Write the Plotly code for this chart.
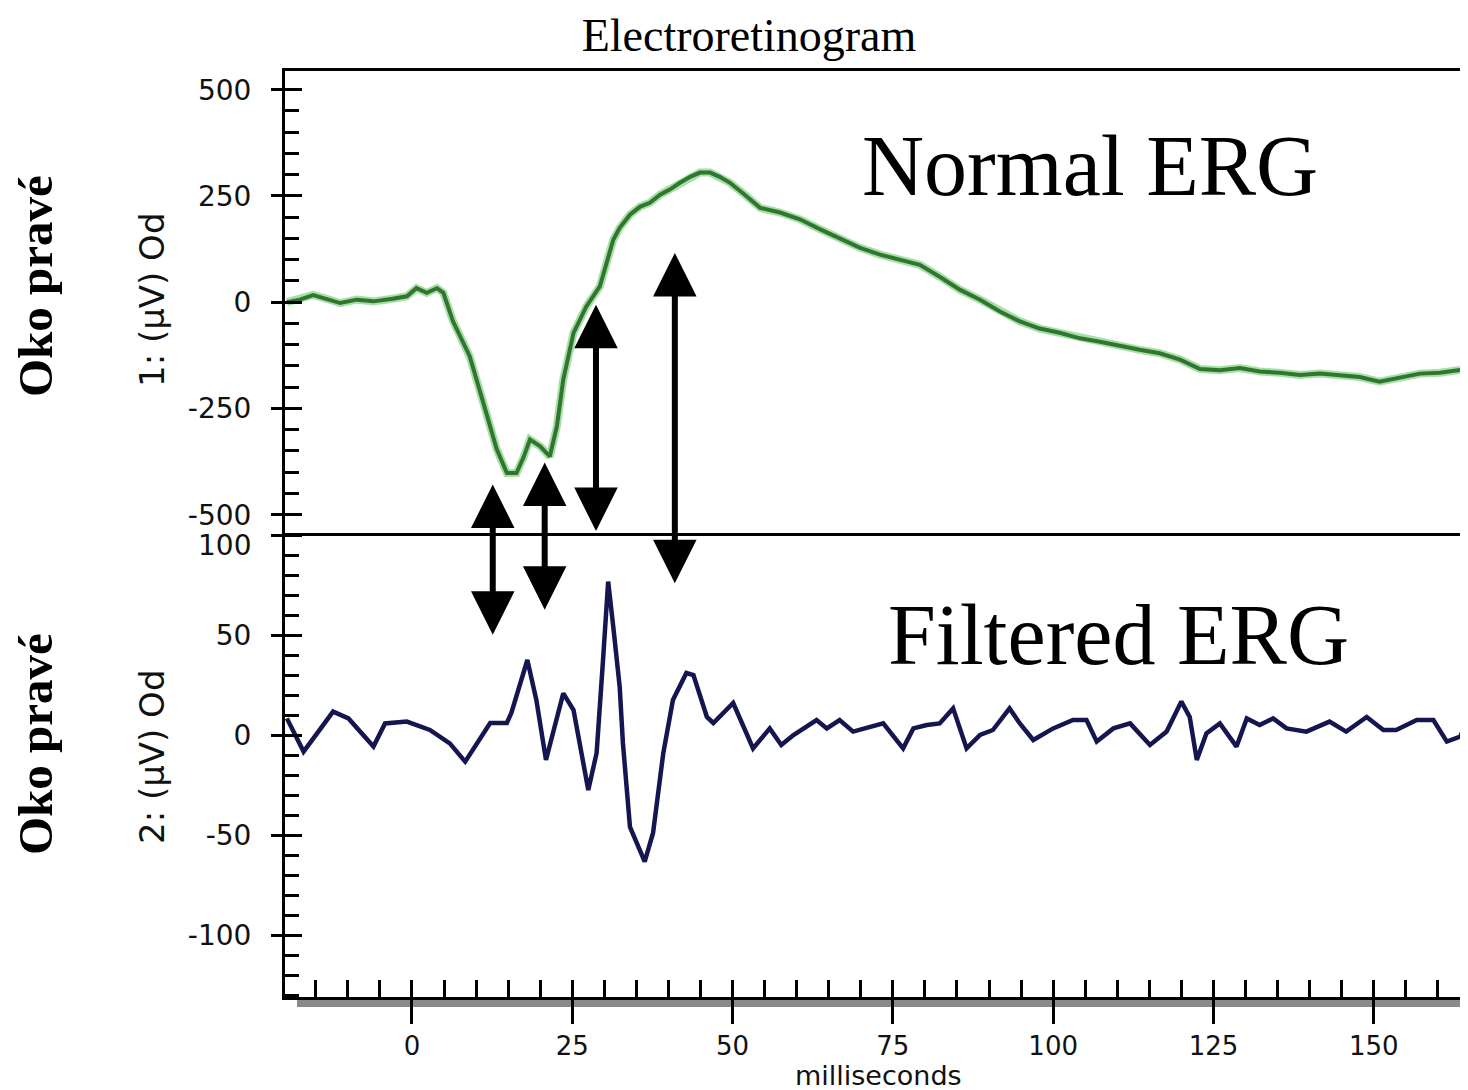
import plotly.graph_objects as go

# ---------------- data ----------------
# Normal ERG (top panel), time in ms, amplitude in microvolts
erg_ms = [-19.5, -17.5, -15.4, -13.3, -11.2, -8.6, -6.0, -3.0, -0.8, 0.7, 2.3, 3.9, 4.9,
          6.4, 9.0, 11.6, 13.2, 14.8, 16.3, 17.4, 18.4, 20.0, 21.5, 22.6, 23.6, 25.2,
          27.2, 29.3, 31.4, 32.4, 34.0, 35.6, 37.1, 38.7, 40.2, 41.8, 43.4, 44.9, 46.5,
          48.0, 49.6, 51.9, 54.3, 57.4, 60.5, 63.6, 66.7, 69.9, 73.0, 76.1, 79.2, 82.3,
          85.5, 88.6, 91.7, 94.8, 97.9, 101.0, 104.2, 107.3, 110.4, 113.5, 116.6, 119.8,
          122.9, 126.0, 129.1, 132.2, 135.3, 138.5, 141.6, 144.7, 147.8, 150.9, 154.1,
          157.2, 160.3, 164.7]
erg_uv = [0, 6, 17, 8, -2, 6, 2, 8, 14, 33, 22, 33, 22,
          -45, -127, -261, -345, -402, -402, -365, -323, -339, -363, -292, -182, -72,
          -10, 37, 147, 175, 206, 225, 234, 253, 265, 281, 295, 305, 305,
          295, 281, 253, 222, 211, 195, 172, 150, 128, 112, 100, 88, 60,
          29, 6, -22, -45, -62, -72, -85, -93, -103, -112, -120, -135,
          -157, -160, -155, -163, -166, -171, -168, -171, -176, -187, -178,
          -168, -166, -157]

# Filtered ERG (bottom panel)
filt_ms = [-19.5, -16.9, -12.3, -9.9, -6.0, -4.2, -0.8, 2.8, 5.9, 8.3, 12.2, 14.8, 15.5,
           18.0, 19.4, 20.9, 23.6, 25.2, 27.5, 28.8, 29.8, 30.6, 31.4, 32.4, 32.9, 34.0,
           36.3, 37.6, 39.2, 40.7, 42.8, 43.9, 46.0, 47.0, 50.1, 51.1, 53.2, 55.8, 57.6,
           59.5, 63.1, 64.7, 66.7, 68.8, 70.9, 73.5, 76.6, 78.2, 80.3, 82.3, 84.4, 86.5,
           88.6, 90.6, 93.2, 94.8, 96.9, 100.0, 103.1, 105.2, 106.8, 109.4, 112.0, 115.1,
           117.7, 120.0, 121.3, 122.4, 123.9, 126.0, 128.6, 130.2, 132.2, 134.3, 136.4,
           139.5, 143.1, 145.7, 148.9, 151.5, 153.5, 156.7, 159.3, 161.4, 163.5, 164.5]
filt_uv = [8.3, -8.3, 11.7, 8.3, -5.8, 5.8, 6.7, 2.5, -4.2, -13.3, 6, 6, 11,
           37.5, 17.5, -12.5, 20.8, 12.5, -27.5, -9, 37.5, 76.7, 54, 24, -4, -46,
           -63.3, -49, -9, 17.5, 31, 30, 9, 6, 16, 9, -6.7, 3.3, -5,
           0, 7.5, 3.3, 7.5, 1.7, 3.3, 5.8, -6.7, 3.3, 5, 5.8, 13.3, -6.7,
           0, 2.5, 13.3, 5.8, -2.5, 3.3, 7.5, 7.5, -3.3, 3.3, 5.8, -5,
           1.7, 16.7, 9, -12.5, 0.8, 5.8, -5.8, 8.3, 5, 8.3, 3.3,
           1.7, 6.7, 1.7, 9, 2.5, 2.5, 7.5, 7.5, -3.3, -0.8, 7.5]

x_tick_vals = [0, 25, 50, 75, 100, 125, 150]
x_tick_text = ["0", "25", "50", "75", "100", "125", "150"]
top_tick_vals = [-500, -250, 0, 250, 500]
top_tick_text = ["-500", "-250", "0", "250", "500"]
bottom_tick_vals = [-100, -50, 0, 50, 100]
bottom_tick_text = ["-100", "-50", "0", "50", "100"]

# double-headed arrows (ms, upper tip, lower tip) in top-panel microvolts
arrow_ms = [12.6, 20.7, 28.7, 41.0]
arrow_upper_uv = [-429, -377, -6, 116]
arrow_lower_uv = [-786, -727, -542, -665]

# ---------------- figure ----------------
PAGE_OFF = 8                      # default body margin of the html page
W, H = 1468 - PAGE_OFF, 1090 - PAGE_OFF
ML, MR, MT, MB = 285 - PAGE_OFF, 0, 71 - PAGE_OFF, 93
PW, PH = W - ML - MR, H - MT - MB
split = (997 - 533) / PH


def px_x(px):   # page pixel -> paper fraction
    return (px - PAGE_OFF - ML) / PW


def px_y(py):
    return (H + PAGE_OFF - MB - py) / PH


x_tick_font = dict(family="DejaVu Sans", size=26, color="#111111")
y_tick_font = dict(family="DejaVu Sans", size=28, color="#111111")
x_range = [-19.8, 164.7]
top_range = [-543, 544]
bottom_range = [-131, 101]

# the top label of the lower panel is nudged below the panel border, as in the original
bottom_tick_shown = bottom_tick_text[:-1] + [""]

fig = go.Figure()
fig.add_trace(go.Scatter(x=erg_ms, y=erg_uv, xaxis="x2", yaxis="y", mode="lines",
                         line=dict(color="#a6e0a6", width=8), hoverinfo="skip", showlegend=False))
fig.add_trace(go.Scatter(x=erg_ms, y=erg_uv, xaxis="x2", yaxis="y", mode="lines",
                         line=dict(color="#317531", width=4), name="Normal ERG", showlegend=False))
fig.add_trace(go.Scatter(x=filt_ms, y=filt_uv, xaxis="x", yaxis="y2", mode="lines",
                         line=dict(color="#15154f", width=4.5), name="Filtered ERG", showlegend=False))
# empty traces that carry the inner halves of the major ticks
fig.add_trace(go.Scatter(x=[], y=[], xaxis="x3", yaxis="y2", showlegend=False, hoverinfo="skip"))
fig.add_trace(go.Scatter(x=[], y=[], xaxis="x2", yaxis="y3", showlegend=False, hoverinfo="skip"))
fig.add_trace(go.Scatter(x=[], y=[], xaxis="x", yaxis="y4", showlegend=False, hoverinfo="skip"))

common_axis = dict(showgrid=False, zeroline=False, showline=True, linecolor="black",
                   linewidth=3, tickcolor="black", tickwidth=3)
inner_axis = dict(showgrid=False, zeroline=False, showline=False, showticklabels=False,
                  ticks="inside", tickcolor="black", tickwidth=3)

fig.update_layout(
    width=W, height=H,
    margin=dict(l=ML, r=MR, t=MT, b=MB, pad=0),
    paper_bgcolor="white", plot_bgcolor="white",
    showlegend=False,
    title=dict(text="Electroretinogram", x=(749 - PAGE_OFF) / W, xref="container",
               xanchor="center", y=1 - (35 - PAGE_OFF) / H, yref="container",
               yanchor="middle",
               font=dict(family="Liberation Serif", size=46, color="black")),
    xaxis=dict(domain=[0, 1], anchor="y2", range=x_range,
               ticks="outside", ticklen=24, tickvals=x_tick_vals, ticktext=x_tick_text,
               minor=dict(ticks="inside", ticklen=17, tickwidth=3, tickcolor="black",
                          dtick=5, tick0=0),
               tickfont=x_tick_font, ticklabelstandoff=0, **common_axis),
    xaxis2=dict(domain=[0, 1], anchor="y", matches="x", mirror=True,
                ticks="", showticklabels=False, **common_axis),
    xaxis3=dict(overlaying="x", anchor="y2", range=x_range, tickvals=x_tick_vals,
                ticklen=17, **inner_axis),
    yaxis=dict(domain=[split, 1], anchor="x2", range=top_range,
               ticks="outside", ticklen=11, tickvals=top_tick_vals, ticktext=top_tick_text,
               minor=dict(ticks="inside", ticklen=14, tickwidth=3, tickcolor="black",
                          dtick=50, tick0=0),
               tickfont=y_tick_font, ticklabelstandoff=14, **common_axis),
    yaxis2=dict(domain=[0, split], anchor="x", range=bottom_range,
                ticks="outside", ticklen=11, tickvals=bottom_tick_vals,
                ticktext=bottom_tick_shown,
                minor=dict(ticks="inside", ticklen=14, tickwidth=3, tickcolor="black",
                           dtick=10, tick0=0),
                tickfont=y_tick_font, ticklabelstandoff=14, **common_axis),
    yaxis3=dict(overlaying="y", anchor="x2", range=top_range, tickvals=top_tick_vals,
                ticklen=17, **inner_axis),
    yaxis4=dict(overlaying="y2", anchor="x", range=bottom_range, tickvals=bottom_tick_vals,
                ticklen=17, **inner_axis),
)

# gray shadow under the time axis
fig.add_shape(type="rect", xref="paper", yref="paper",
              x0=px_x(297), x1=1, y0=px_y(1007), y1=px_y(999),
              fillcolor="#8a8a8a", line=dict(width=0), layer="below")

annotations = []
# double-headed arrows
for xm, yu, yl in zip(arrow_ms, arrow_upper_uv, arrow_lower_uv):
    annotations.append(dict(
        x=xm, y=yu, xref="x2", yref="y", ax=xm, ay=yl, axref="x2", ayref="y",
        text="", showarrow=True, arrowside="end+start",
        arrowhead=2, startarrowhead=2, arrowwidth=6, arrowsize=1.45, startarrowsize=1.45,
        arrowcolor="black", standoff=0, startstandoff=0, font=dict(size=1)))

annotations += [
    dict(text=bottom_tick_text[-1], x=px_x(253), y=px_y(545), xref="paper", yref="paper",
         showarrow=False, xanchor="right", yanchor="middle", font=y_tick_font),
    dict(text="Normal ERG", x=px_x(1090), y=px_y(166), xref="paper", yref="paper",
         showarrow=False, xanchor="center", yanchor="middle",
         font=dict(family="Liberation Serif", size=86, color="black")),
    dict(text="Filtered ERG", x=px_x(1118), y=px_y(635), xref="paper", yref="paper",
         showarrow=False, xanchor="center", yanchor="middle",
         font=dict(family="Liberation Serif", size=86, color="black")),
    dict(text="1: (µV) Od", x=px_x(152), y=px_y(300), xref="paper", yref="paper",
         showarrow=False, textangle=-90, xanchor="center", yanchor="middle",
         font=dict(family="DejaVu Sans", size=34, color="#111111")),
    dict(text="2: (µV) Od", x=px_x(152), y=px_y(757), xref="paper", yref="paper",
         showarrow=False, textangle=-90, xanchor="center", yanchor="middle",
         font=dict(family="DejaVu Sans", size=34, color="#111111")),
    dict(text="<b>Oko pravé</b>", x=px_x(35), y=px_y(286), xref="paper", yref="paper",
         showarrow=False, textangle=-90, xanchor="center", yanchor="middle",
         font=dict(family="Liberation Serif", size=49, color="black")),
    dict(text="<b>Oko pravé</b>", x=px_x(35), y=px_y(744), xref="paper", yref="paper",
         showarrow=False, textangle=-90, xanchor="center", yanchor="middle",
         font=dict(family="Liberation Serif", size=49, color="black")),
    dict(text="milliseconds", x=px_x(878), y=px_y(1075), xref="paper", yref="paper",
         showarrow=False, xanchor="center", yanchor="middle",
         font=dict(family="DejaVu Sans", size=27, color="#111111")),
]
fig.update_layout(annotations=annotations)

fig.write_html("out.html")
